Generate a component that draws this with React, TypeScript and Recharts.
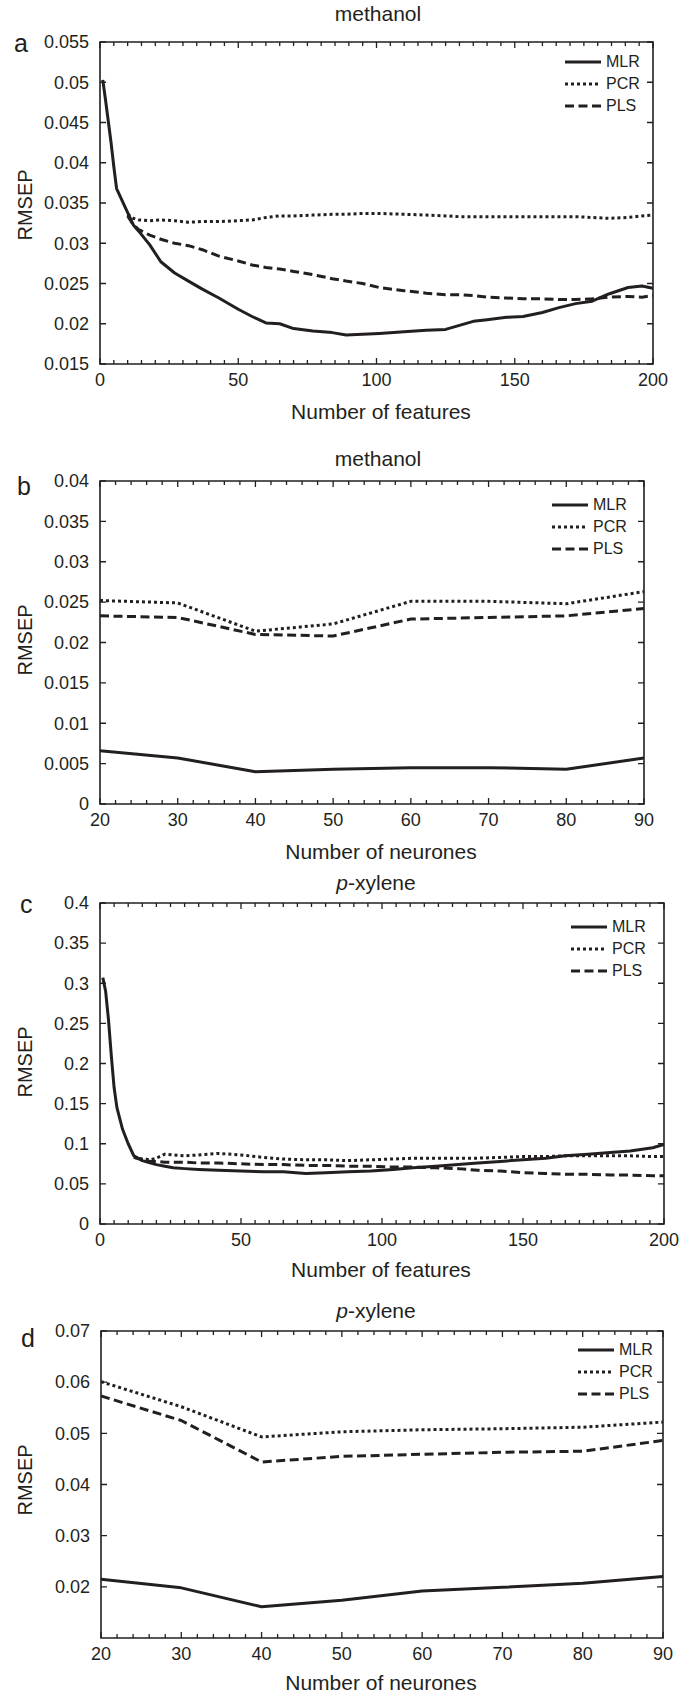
import { LineChart, Line, XAxis, YAxis, ReferenceArea, Legend } from "recharts";

const INK = "#231f20";
const FONT = '"Liberation Sans", Arial, Helvetica, sans-serif';

// ---- panel a: methanol, RMSEP vs number of features ----
const aX = [1, 2, 4, 5, 6, 8, 10, 12, 14, 18, 22, 27, 32, 37, 43, 50, 55, 60, 65, 70, 77, 84, 89, 95, 101, 110, 118, 125, 130, 135, 140, 147, 153, 160, 166, 172, 178, 184, 191, 196, 200];
const aMLR = [0.0503, 0.0478, 0.0425, 0.0395, 0.0368, 0.0353, 0.0338, 0.0323, 0.0315, 0.0298, 0.0277, 0.0263, 0.0253, 0.0243, 0.0232, 0.0218, 0.0209, 0.0201, 0.02, 0.0194, 0.0191, 0.0189, 0.0186, 0.0187, 0.0188, 0.019, 0.0192, 0.0193, 0.0198, 0.0203, 0.0205, 0.0208, 0.0209, 0.0214, 0.022, 0.0225, 0.0228, 0.0237, 0.0245, 0.0247, 0.0244];
const aPCR = [null, null, null, null, null, null, 0.0336, 0.0331, 0.0329, 0.0328, 0.0329, 0.0328, 0.0326, 0.0327, 0.0327, 0.0328, 0.0329, 0.0332, 0.0334, 0.0334, 0.0335, 0.0336, 0.0336, 0.0337, 0.0337, 0.0336, 0.0335, 0.0334, 0.0333, 0.0333, 0.0333, 0.0333, 0.0333, 0.0333, 0.0333, 0.0333, 0.0332, 0.0331, 0.0332, 0.0334, 0.0335];
const aPLS = [null, null, null, null, null, null, 0.0334, 0.0323, 0.0317, 0.031, 0.0305, 0.03, 0.0297, 0.0292, 0.0284, 0.0278, 0.0273, 0.027, 0.0268, 0.0265, 0.0261, 0.0256, 0.0253, 0.025, 0.0245, 0.0241, 0.0238, 0.0236, 0.0236, 0.0235, 0.0233, 0.0232, 0.0231, 0.0231, 0.023, 0.023, 0.0231, 0.0233, 0.0234, 0.0233, 0.0235];
const aXLabels = [0, 50, 100, 150, 200];
const aYTicks = [0.015, 0.02, 0.025, 0.03, 0.035, 0.04, 0.045, 0.05, 0.055];

// ---- panel b: methanol, RMSEP vs number of neurones ----
const bX = [20, 30, 40, 50, 60, 70, 80, 90];
const bMLR = [0.0066, 0.0057, 0.004, 0.0043, 0.0045, 0.0045, 0.0043, 0.0057];
const bPCR = [0.0252, 0.0249, 0.0214, 0.0223, 0.0251, 0.0251, 0.0248, 0.0263];
const bPLS = [0.0233, 0.0231, 0.021, 0.0208, 0.0229, 0.0231, 0.0233, 0.0242];
const bXLabels = [20, 30, 40, 50, 60, 70, 80, 90];
const bYTicks = [0, 0.005, 0.01, 0.015, 0.02, 0.025, 0.03, 0.035, 0.04];

// ---- panel c: p-xylene, RMSEP vs number of features ----
const cX = [1, 2, 3, 4, 5, 6, 8, 10, 12, 15, 18, 20, 23, 26, 30, 35, 42, 50, 58, 65, 73, 80, 88, 96, 104, 111, 119, 127, 134, 142, 150, 158, 165, 173, 181, 188, 196, 200];
const cMLR = [0.307, 0.29, 0.255, 0.21, 0.17, 0.145, 0.118, 0.1, 0.085, 0.079, 0.076, 0.074, 0.072, 0.07, 0.069, 0.068, 0.067, 0.066, 0.065, 0.065, 0.063, 0.064, 0.065, 0.066, 0.068, 0.07, 0.072, 0.074, 0.076, 0.078, 0.08, 0.082, 0.085, 0.087, 0.089, 0.091, 0.095, 0.099];
const cPCR = [null, null, null, null, null, null, null, null, 0.083, 0.081, 0.08, 0.082, 0.087, 0.086, 0.085, 0.086, 0.088, 0.086, 0.083, 0.081, 0.08, 0.08, 0.079, 0.08, 0.081, 0.082, 0.082, 0.082, 0.082, 0.083, 0.084, 0.084, 0.085, 0.085, 0.085, 0.085, 0.084, 0.084];
const cPLS = [null, null, null, null, null, null, null, null, 0.083, 0.08, 0.078, 0.078, 0.077, 0.077, 0.077, 0.076, 0.076, 0.075, 0.074, 0.074, 0.073, 0.073, 0.072, 0.072, 0.071, 0.071, 0.07, 0.069, 0.067, 0.066, 0.064, 0.063, 0.062, 0.062, 0.061, 0.061, 0.06, 0.06];
const cXLabels = [0, 50, 100, 150, 200];
const cYTicks = [0, 0.05, 0.1, 0.15, 0.2, 0.25, 0.3, 0.35, 0.4];

// ---- panel d: p-xylene, RMSEP vs number of neurones ----
const dX = [20, 30, 40, 50, 60, 70, 80, 90];
const dMLR = [0.0215, 0.0198, 0.0161, 0.0174, 0.0192, 0.0199, 0.0207, 0.022];
const dPCR = [0.0601, 0.0552, 0.0493, 0.0503, 0.0507, 0.0509, 0.0512, 0.0522];
const dPLS = [0.0573, 0.0525, 0.0444, 0.0455, 0.0459, 0.0463, 0.0465, 0.0486];
const dXLabels = [20, 30, 40, 50, 60, 70, 80, 90];
const dYTicks = [0.02, 0.03, 0.04, 0.05, 0.06, 0.07];

const SERIES = [
  { key: "MLR", dash: undefined as string | undefined, width: 3 },
  { key: "PCR", dash: "3 3", width: 3 },
  { key: "PLS", dash: "9 4.5", width: 3 },
];

const steps = (lo: number, hi: number, step: number) => {
  const out: number[] = [];
  for (let v = lo; v <= hi + 1e-9; v += step) out.push(Math.round(v * 1000) / 1000);
  return out;
};

const rows = (xs: number[], mlr: (number | null)[], pcr: (number | null)[], pls: (number | null)[]) =>
  xs.map((x, i) => ({ x, MLR: mlr[i], PCR: pcr[i], PLS: pls[i] }));

const PANELS = [
  {
    id: "a", divTop: 0, left: 100, right: 653, top: 42, bottom: 364,
    data: rows(aX, aMLR, aPCR, aPLS), xDomain: [0, 200], yDomain: [0.015, 0.055],
    xTicks: steps(0, 200, 5), xLabels: aXLabels, yTicks: aYTicks, legend: [565, 51],
  },
  {
    id: "b", divTop: 440, left: 100, right: 644, top: 481, bottom: 804,
    data: rows(bX, bMLR, bPCR, bPLS), xDomain: [20, 90], yDomain: [0, 0.04],
    xTicks: steps(20, 90, 2), xLabels: bXLabels, yTicks: bYTicks, legend: [552, 54],
  },
  {
    id: "c", divTop: 860, left: 100, right: 664, top: 903, bottom: 1224,
    data: rows(cX, cMLR, cPCR, cPLS), xDomain: [0, 200], yDomain: [0, 0.4],
    xTicks: steps(0, 200, 5), xLabels: cXLabels, yTicks: cYTicks, legend: [571, 56],
  },
  {
    id: "d", divTop: 1290, left: 101, right: 663, top: 1331, bottom: 1638,
    data: rows(dX, dMLR, dPCR, dPLS), xDomain: [20, 90], yDomain: [0.01, 0.07],
    xTicks: steps(20, 90, 2), xLabels: dXLabels, yTicks: dYTicks, legend: [578, 49],
  },
];

// inward ticks on bottom and top edges, labels only on the major ones
function XTick(props: any) {
  const { x, y, payload, labels, plotH } = props;
  const v = payload.value;
  const major = labels.includes(v);
  const len = major ? 6 : 4;
  return (
    <g>
      <path d={`M${x},${y}V${y - len}M${x},${y - plotH}V${y - plotH + len}`} stroke={INK} strokeWidth={1.3} fill="none" />
      {major && (
        <text x={x} y={y + 16} dy="0.35em" textAnchor="middle" fill={INK} fontSize={18} fontFamily={FONT}>
          {v}
        </text>
      )}
    </g>
  );
}

// inward ticks on left and right edges
function YTick(props: any) {
  const { x, y, payload, plotW } = props;
  return (
    <g>
      <path d={`M${x},${y}H${x + 6}M${x + plotW},${y}H${x + plotW - 6}`} stroke={INK} strokeWidth={1.3} fill="none" />
      <text x={x - 11} y={y} dy="0.35em" textAnchor="end" fill={INK} fontSize={18} fontFamily={FONT}>
        {String(payload.value)}
      </text>
    </g>
  );
}

function LegendBox() {
  return (
    <div style={{ fontFamily: FONT, fontSize: 16, color: INK }}>
      {SERIES.map((s) => (
        <div key={s.key} style={{ display: "flex", alignItems: "center", height: 22 }}>
          <svg width={36} height={10}>
            <line x1={0} x2={36} y1={5} y2={5} stroke={INK} strokeWidth={s.width} strokeDasharray={s.dash} />
          </svg>
          <span style={{ marginLeft: 5, lineHeight: "16px" }}>{s.key}</span>
        </div>
      ))}
    </div>
  );
}

function Panel({ p }: { p: (typeof PANELS)[number] }) {
  const plotW = p.right - p.left;
  const plotH = p.bottom - p.top;
  const height = p.bottom - p.divTop + 30 + 26;
  return (
    <div style={{ position: "absolute", left: 0, top: p.divTop }}>
      <LineChart
        width={683}
        height={height}
        data={p.data}
        margin={{ top: p.top - p.divTop, right: 683 - p.right, left: p.left - 60, bottom: 26 }}
      >
        <XAxis
          dataKey="x"
          type="number"
          domain={p.xDomain}
          ticks={p.xTicks}
          interval={0}
          allowDataOverflow
          height={30}
          axisLine={false}
          tickLine={false}
          tickSize={0}
          tickMargin={0}
          tick={(t: any) => <XTick {...t} labels={p.xLabels} plotH={plotH} />}
        />
        <YAxis
          type="number"
          domain={p.yDomain}
          ticks={p.yTicks}
          interval={0}
          allowDataOverflow
          width={60}
          axisLine={false}
          tickLine={false}
          tickSize={0}
          tickMargin={0}
          tick={(t: any) => <YTick {...t} plotW={plotW} />}
        />
        <ReferenceArea
          x1={p.xDomain[0]}
          x2={p.xDomain[1]}
          y1={p.yDomain[0]}
          y2={p.yDomain[1]}
          fill="none"
          fillOpacity={0}
          stroke={INK}
          strokeWidth={1.6}
          ifOverflow="visible"
        />
        {SERIES.map((s) => (
          <Line
            key={s.key}
            dataKey={s.key}
            type="linear"
            stroke={INK}
            strokeWidth={s.width}
            strokeDasharray={s.dash}
            strokeLinejoin="round"
            dot={false}
            activeDot={false}
            connectNulls={false}
            isAnimationActive={false}
          />
        ))}
        <Legend
          layout="vertical"
          align="center"
          verticalAlign="middle"
          content={() => <LegendBox />}
          wrapperStyle={{ left: p.legend[0], top: p.legend[1], width: "auto", height: "auto" }}
        />
      </LineChart>
    </div>
  );
}

const TXT = { fill: INK, fontFamily: FONT };

export default function App() {
  return (
    <div style={{ position: "absolute", left: 0, top: 0, width: 683, height: 1694, background: "#fff" }}>
      {PANELS.map((p) => (
        <Panel key={p.id} p={p} />
      ))}
      <svg width={683} height={1694} style={{ position: "absolute", left: 0, top: 0, pointerEvents: "none" }}>
        {/* panel letters */}
        <text x={14} y={52} fontSize={25} {...TXT}>a</text>
        <text x={17} y={495} fontSize={25} {...TXT}>b</text>
        <text x={20} y={913} fontSize={25} {...TXT}>c</text>
        <text x={21} y={1347} fontSize={25} {...TXT}>d</text>
        {/* titles */}
        <text x={378} y={21} fontSize={21} textAnchor="middle" {...TXT}>methanol</text>
        <text x={378} y={466} fontSize={21} textAnchor="middle" {...TXT}>methanol</text>
        <text x={376} y={890} fontSize={21} textAnchor="middle" {...TXT}>
          <tspan fontStyle="italic">p</tspan>-xylene
        </text>
        <text x={376} y={1318} fontSize={21} textAnchor="middle" {...TXT}>
          <tspan fontStyle="italic">p</tspan>-xylene
        </text>
        {/* x axis titles */}
        <text x={381} y={419} fontSize={21} textAnchor="middle" {...TXT}>Number of features</text>
        <text x={381} y={859} fontSize={21} textAnchor="middle" {...TXT}>Number of neurones</text>
        <text x={381} y={1277} fontSize={21} textAnchor="middle" {...TXT}>Number of features</text>
        <text x={381} y={1690} fontSize={21} textAnchor="middle" {...TXT}>Number of neurones</text>
        {/* y axis titles */}
        {[205, 640, 1062, 1480].map((cy, i) => (
          <text key={i} x={32} y={cy} fontSize={20} textAnchor="middle" transform={`rotate(-90 32 ${cy})`} {...TXT}>
            RMSEP
          </text>
        ))}
      </svg>
    </div>
  );
}
